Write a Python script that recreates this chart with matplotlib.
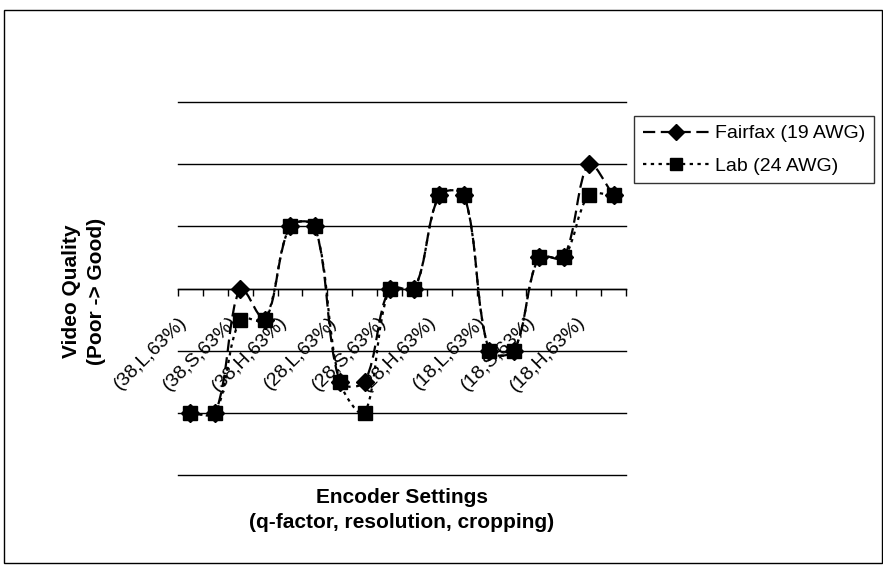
import matplotlib
matplotlib.use("Agg")
import matplotlib.pyplot as plt
from matplotlib.path import Path
from matplotlib.patches import PathPatch, Rectangle
from matplotlib.lines import Line2D
from matplotlib.transforms import ScaledTranslation
import numpy as np

plt.rcParams['font.family'] = ['Liberation Sans', 'DejaVu Sans']

# ---- data ----
tick_labels = ["(38,L,63%)", "(38,S,63%)", "(38,H,63%)", "(28,L,63%)", "(28,S,63%)",
               "(28,H,63%)", "(18,L,63%)", "(18,S,63%)", "(18,H,63%)"]
fairfax = [-2, -2, 0, -0.5, 1, 1, -1.5, -1.5, 0, 0, 1.5, 1.5, -1, -1, 0.5, 0.5, 2, 1.5]
lab = [-2, -2, -0.5, -0.5, 1, 1, -1.5, -2, 0, 0, 1.5, 1.5, -1, -1, 0.5, 0.5, 1.5, 1.5]
series_names = ["Fairfax (19 AWG)", "Lab (24 AWG)"]

W, H = 883, 565
fig = plt.figure(figsize=(W / 100, H / 100), dpi=100)
ax = fig.add_axes([178 / W, 1 - 475 / H, (626 - 178) / W, (475 - 102) / H])

n = len(lab)
x = np.arange(n)
ax.set_xlim(-0.5, n - 0.5)
ax.set_ylim(-3, 3)


def smooth_path(xs, ys):
    # smoothed (Excel-like) line: cubic Bezier segments, tangents weighted by
    # on-screen segment lengths
    pts = np.column_stack([xs, ys]).astype(float)
    pix = ax.transData.transform(pts)
    inv = ax.transData.inverted()
    m = len(pix)
    d = np.hypot(*(np.diff(pix, axis=0).T))
    verts = [pts[0]]
    codes = [Path.MOVETO]
    for i in range(m - 1):
        p1, p2 = pix[i], pix[i + 1]
        if i > 0:
            t1 = (pix[i + 1] - pix[i - 1]) * d[i] / (d[i - 1] + d[i]) / 3.0
        else:
            t1 = (p2 - p1) / 3.0
        if i + 2 < m:
            t2 = (pix[i + 2] - pix[i]) * d[i] / (d[i] + d[i + 1]) / 3.0
        else:
            t2 = (p2 - p1) / 3.0
        c1 = inv.transform(p1 + t1)
        c2 = inv.transform(p2 - t2)
        verts += [c1, c2, pts[i + 1]]
        codes += [Path.CURVE4] * 3
    return Path(verts, codes)


lw = 1.6
ff_ls = (0, (5.5, 2.5))
lab_ls = (0, (1.5, 2))

ax.add_patch(PathPatch(smooth_path(x, fairfax), fill=False, edgecolor='black',
                       lw=lw, linestyle=ff_ls, zorder=3))
ax.plot(x, fairfax, linestyle='none', marker='D', markersize=9, color='black', zorder=4)
ax.add_patch(PathPatch(smooth_path(x, lab), fill=False, edgecolor='black',
                       lw=lw, linestyle=lab_ls, zorder=5))
ax.plot(x, lab, linestyle='none', marker='s', markersize=10, color='black', zorder=6)

for yv in range(-3, 4):
    ax.axhline(yv, color='black', lw=1.0, zorder=1, clip_on=False)

for s in ['left', 'right', 'top']:
    ax.spines[s].set_visible(False)
ax.spines['bottom'].set_position(('data', 0))
ax.spines['bottom'].set_linewidth(1.0)
ax.set_yticks([])

ax.set_xticks(np.arange(-0.5, n, 1.0))
ax.set_xticklabels([])
ax.tick_params(axis='x', which='major', direction='out', length=5, width=1)
ax.set_xticks(np.arange(0, n, 2), minor=True)
ax.set_xticklabels(tick_labels, minor=True, rotation=45, ha='right', va='center',
                   rotation_mode='anchor', fontsize=14)
ax.tick_params(axis='x', which='minor', length=0, pad=22)
shift = ScaledTranslation(-6 / 100, 0, fig.dpi_scale_trans)
for lbl in ax.get_xticklabels(minor=True):
    lbl.set_transform(lbl.get_transform() + shift)

fig.text(84 / W, 1 - 291 / H, "Video Quality\n(Poor -> Good)", rotation=90,
         ha='center', va='center', fontsize=15, fontweight='bold', linespacing=1.35)
fig.text(402 / W, 1 - 510 / H, "Encoder Settings\n(q-factor, resolution, cropping)",
         ha='center', va='center', fontsize=15, fontweight='bold', linespacing=1.45)

handles = [
    Line2D([], [], color='black', lw=lw, linestyle=ff_ls, marker='D', markersize=8),
    Line2D([], [], color='black', lw=lw, linestyle=lab_ls, marker='s', markersize=9),
]
leg = fig.legend(handles, series_names, loc='upper left',
                 bbox_to_anchor=(634 / W, 1 - 116 / H), frameon=True, fancybox=False,
                 edgecolor='black', fontsize=14, handlelength=3.4, borderaxespad=0,
                 borderpad=0.45, labelspacing=0.75, handletextpad=0.3)
leg.get_frame().set_linewidth(1.0)

fig.patches.append(Rectangle((4 / W, 2 / H), 878 / W, (555 - 2) / H, transform=fig.transFigure,
                             fill=False, edgecolor='black', lw=1.0))

fig.savefig("out.png", dpi=100)
